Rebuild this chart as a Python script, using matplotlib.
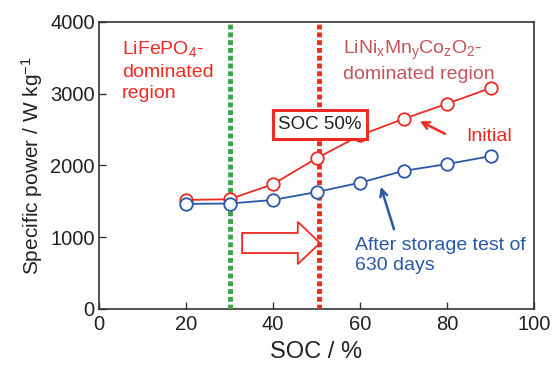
import matplotlib
matplotlib.use('Agg')
import matplotlib.pyplot as plt
import matplotlib.patches as mpatches

plt.rcParams['font.family'] = ['Liberation Sans', 'DejaVu Sans']
plt.rcParams['mathtext.fontset'] = 'custom'
plt.rcParams['mathtext.rm'] = 'Liberation Sans'
plt.rcParams['mathtext.it'] = 'Liberation Sans:italic'

# state of charge, %
soc = [20, 30, 40, 50, 60, 70, 80, 90]
# specific power, W/kg
power_initial = [1520, 1530, 1740, 2100, 2420, 2650, 2860, 3080]
power_after = [1465, 1470, 1520, 1630, 1760, 1925, 2020, 2130]

x_ticks = [0, 20, 40, 60, 80, 100]
y_ticks = [0, 1000, 2000, 3000, 4000]

red = '#ee2a24'
blue = '#2a58a8'
green = '#3ba341'
dark = '#333333'
txt = '#222222'

fig = plt.figure(figsize=(5.59, 3.72), dpi=100)
ax = fig.add_axes([99 / 559, 63 / 372, 435 / 559, 287 / 372])

# region boundaries
ax.axvline(30, color=green, lw=3.5, ls=(0, (1, 0.6)), zorder=3)
ax.axvline(50.5, color=red, lw=3.5, ls=(0, (1, 0.6)), zorder=3)

ax.plot(soc, power_initial, '-o', color=red, lw=1.3, ms=9,
        mfc='white', mec=red, mew=1.3, zorder=4)
ax.plot(soc, power_after, '-o', color=blue, lw=1.3, ms=9,
        mfc='white', mec=blue, mew=1.3, zorder=5)

# hollow arrow
arr = mpatches.FancyArrow(32.9, 920, 12.8, 0, width=280, head_width=590,
                          head_length=5.1, length_includes_head=False,
                          fc='white', ec=red, lw=1.3, zorder=2)
ax.add_patch(arr)

# texts
fs = 14
ax.text(5.3, 3760, 'LiFePO$\\mathregular{_4}$-\ndominated\nregion', color=red,
        fontsize=fs, va='top', ha='left', linespacing=1.35)
ax.text(56.0, 3760,
        'LiNi$\\mathregular{_x}$Mn$\\mathregular{_y}$Co$\\mathregular{_z}$'
        'O$\\mathregular{_2}$-\ndominated region',
        color='#c45557', fontsize=fs, va='top', ha='left', linespacing=1.3)
ax.text(50.8, 2570, 'SOC 50%', color=txt, fontsize=13.5,
        ha='center', va='center', zorder=6,
        bbox=dict(boxstyle='square,pad=0.3', fc='white', ec=red, lw=2.2))
ax.text(84.5, 2400, 'Initial', color=red, fontsize=fs,
        ha='left', va='center')
ax.text(58.8, 1010, 'After storage test of\n630 days', color=blue,
        fontsize=fs, ha='left', va='top', linespacing=1.25)

ax.annotate('', xy=(73.2, 2635), xytext=(80.1, 2425),
            arrowprops=dict(arrowstyle='->,head_length=0.5,head_width=0.25',
                            color=red, lw=1.8))
ax.annotate('', xy=(64.6, 1740), xytext=(68.0, 1075),
            arrowprops=dict(arrowstyle='->,head_length=0.5,head_width=0.25',
                            color=blue, lw=1.8))

ax.set_xlim(0, 100)
ax.set_ylim(0, 4000)
ax.set_xticks(x_ticks)
ax.set_yticks(y_ticks)
ax.tick_params(direction='in', length=5, width=1, colors=dark,
               labelsize=14.5, labelcolor=txt)
ax.tick_params(axis='x', pad=4)
ax.tick_params(axis='y', pad=3)
for s in ax.spines.values():
    s.set_color(dark)
    s.set_linewidth(1.2)

ax.set_xlabel('SOC / %', fontsize=17, color=txt, labelpad=5)
ax.set_ylabel('Specific power / W kg$\\mathregular{^{-1}}$', fontsize=15,
              color=txt, labelpad=4)

fig.savefig('out.png', dpi=100)
